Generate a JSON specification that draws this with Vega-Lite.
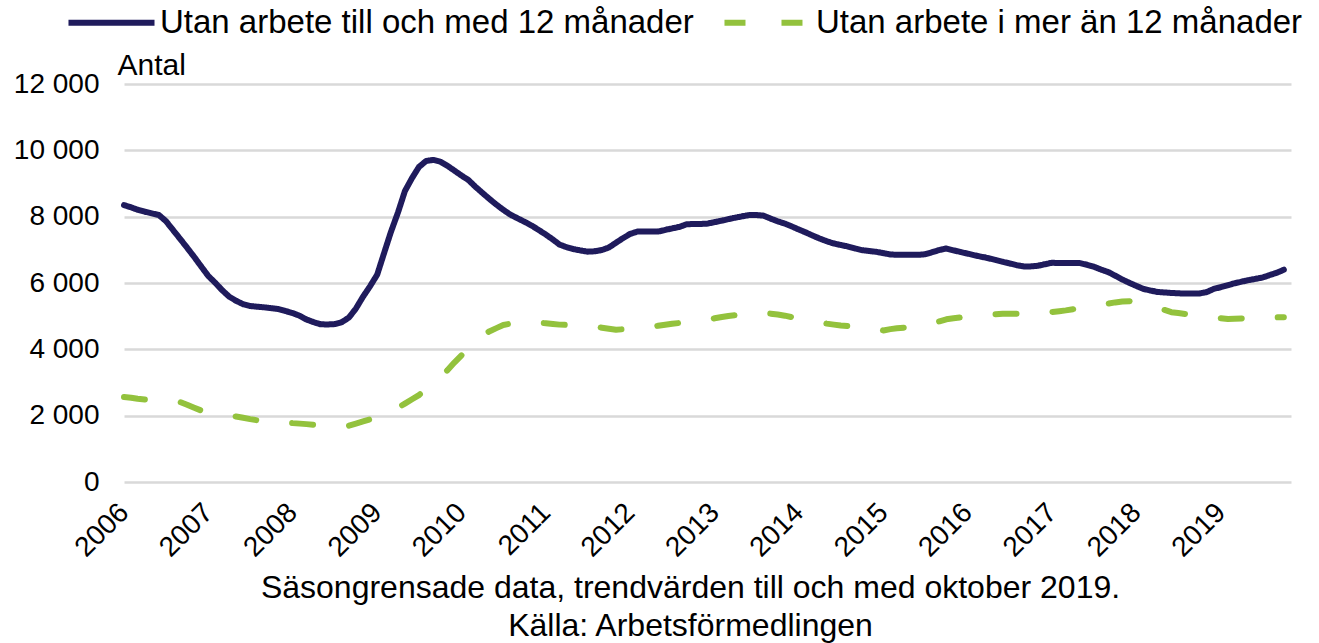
{
  "$schema": "https://vega.github.io/schema/vega-lite/v6.json",
  "width": 1167,
  "height": 398,
  "autosize": {"type": "none"},
  "padding": {"left": 124, "top": 84, "right": 28, "bottom": 161},
  "background": "white",
  "config": {"font": "Liberation Sans", "view": {"stroke": null}},
  "title": {
    "text": ["Säsongrensade  data, trendvärden till och med oktober 2019.", "Källa:  Arbetsförmedlingen"],
    "orient": "bottom",
    "anchor": "middle",
    "fontSize": 32,
    "fontWeight": "normal",
    "color": "black",
    "offset": 11,
    "dx": -17,
    "lineHeight": 38
  },
  "data": {
    "format": {"parse": {"d": "date:'%Y-%m'"}},
    "values": [
      {"d":"2006-01","Utan arbete till och med 12 månader":8350,"Utan arbete i mer än 12 månader":2560},
      {"d":"2006-02","Utan arbete till och med 12 månader":8280,"Utan arbete i mer än 12 månader":2540},
      {"d":"2006-03","Utan arbete till och med 12 månader":8210,"Utan arbete i mer än 12 månader":2510},
      {"d":"2006-04","Utan arbete till och med 12 månader":8150,"Utan arbete i mer än 12 månader":2490},
      {"d":"2006-05","Utan arbete till och med 12 månader":8100,"Utan arbete i mer än 12 månader":2475},
      {"d":"2006-06","Utan arbete till och med 12 månader":8050,"Utan arbete i mer än 12 månader":2460},
      {"d":"2006-07","Utan arbete till och med 12 månader":7870,"Utan arbete i mer än 12 månader":2450},
      {"d":"2006-08","Utan arbete till och med 12 månader":7600,"Utan arbete i mer än 12 månader":2430},
      {"d":"2006-09","Utan arbete till och med 12 månader":7330,"Utan arbete i mer än 12 månader":2410},
      {"d":"2006-10","Utan arbete till och med 12 månader":7065,"Utan arbete i mer än 12 månader":2330},
      {"d":"2006-11","Utan arbete till och med 12 månader":6785,"Utan arbete i mer än 12 månader":2240},
      {"d":"2006-12","Utan arbete till och med 12 månader":6500,"Utan arbete i mer än 12 månader":2155},
      {"d":"2007-01","Utan arbete till och med 12 månader":6210,"Utan arbete i mer än 12 månader":2100},
      {"d":"2007-02","Utan arbete till och med 12 månader":6000,"Utan arbete i mer än 12 månader":2065},
      {"d":"2007-03","Utan arbete till och med 12 månader":5790,"Utan arbete i mer än 12 månader":2040},
      {"d":"2007-04","Utan arbete till och med 12 månader":5590,"Utan arbete i mer än 12 månader":2005},
      {"d":"2007-05","Utan arbete till och med 12 månader":5465,"Utan arbete i mer än 12 månader":1975},
      {"d":"2007-06","Utan arbete till och med 12 månader":5360,"Utan arbete i mer än 12 månader":1935},
      {"d":"2007-07","Utan arbete till och med 12 månader":5305,"Utan arbete i mer än 12 månader":1895},
      {"d":"2007-08","Utan arbete till och med 12 månader":5285,"Utan arbete i mer än 12 månader":1860},
      {"d":"2007-09","Utan arbete till och med 12 månader":5265,"Utan arbete i mer än 12 månader":1840},
      {"d":"2007-10","Utan arbete till och med 12 månader":5240,"Utan arbete i mer än 12 månader":1825},
      {"d":"2007-11","Utan arbete till och med 12 månader":5215,"Utan arbete i mer än 12 månader":1810},
      {"d":"2007-12","Utan arbete till och med 12 månader":5155,"Utan arbete i mer än 12 månader":1795},
      {"d":"2008-01","Utan arbete till och med 12 månader":5095,"Utan arbete i mer än 12 månader":1775},
      {"d":"2008-02","Utan arbete till och med 12 månader":5010,"Utan arbete i mer än 12 månader":1760},
      {"d":"2008-03","Utan arbete till och med 12 månader":4900,"Utan arbete i mer än 12 månader":1745},
      {"d":"2008-04","Utan arbete till och med 12 månader":4820,"Utan arbete i mer än 12 månader":1725},
      {"d":"2008-05","Utan arbete till och med 12 månader":4755,"Utan arbete i mer än 12 månader":1715},
      {"d":"2008-06","Utan arbete till och med 12 månader":4750,"Utan arbete i mer än 12 månader":1705},
      {"d":"2008-07","Utan arbete till och med 12 månader":4760,"Utan arbete i mer än 12 månader":1695},
      {"d":"2008-08","Utan arbete till och med 12 månader":4820,"Utan arbete i mer än 12 månader":1685},
      {"d":"2008-09","Utan arbete till och med 12 månader":4960,"Utan arbete i mer än 12 månader":1700},
      {"d":"2008-10","Utan arbete till och med 12 månader":5230,"Utan arbete i mer än 12 månader":1760},
      {"d":"2008-11","Utan arbete till och med 12 månader":5590,"Utan arbete i mer än 12 månader":1825},
      {"d":"2008-12","Utan arbete till och med 12 månader":5900,"Utan arbete i mer än 12 månader":1890},
      {"d":"2009-01","Utan arbete till och med 12 månader":6250,"Utan arbete i mer än 12 månader":1980},
      {"d":"2009-02","Utan arbete till och med 12 månader":6925,"Utan arbete i mer än 12 månader":2065},
      {"d":"2009-03","Utan arbete till och med 12 månader":7530,"Utan arbete i mer än 12 månader":2155},
      {"d":"2009-04","Utan arbete till och med 12 månader":8125,"Utan arbete i mer än 12 månader":2240},
      {"d":"2009-05","Utan arbete till och med 12 månader":8770,"Utan arbete i mer än 12 månader":2365},
      {"d":"2009-06","Utan arbete till och med 12 månader":9165,"Utan arbete i mer än 12 månader":2495},
      {"d":"2009-07","Utan arbete till och med 12 månader":9500,"Utan arbete i mer än 12 månader":2620},
      {"d":"2009-08","Utan arbete till och med 12 månader":9680,"Utan arbete i mer än 12 månader":2800},
      {"d":"2009-09","Utan arbete till och med 12 månader":9710,"Utan arbete i mer än 12 månader":2985},
      {"d":"2009-10","Utan arbete till och med 12 månader":9660,"Utan arbete i mer än 12 månader":3165},
      {"d":"2009-11","Utan arbete till och med 12 månader":9535,"Utan arbete i mer än 12 månader":3370},
      {"d":"2009-12","Utan arbete till och med 12 månader":9390,"Utan arbete i mer än 12 månader":3600},
      {"d":"2010-01","Utan arbete till och med 12 månader":9240,"Utan arbete i mer än 12 månader":3820},
      {"d":"2010-02","Utan arbete till och med 12 månader":9100,"Utan arbete i mer än 12 månader":4020},
      {"d":"2010-03","Utan arbete till och med 12 månader":8910,"Utan arbete i mer än 12 månader":4220},
      {"d":"2010-04","Utan arbete till och med 12 månader":8720,"Utan arbete i mer än 12 månader":4420},
      {"d":"2010-05","Utan arbete till och med 12 månader":8540,"Utan arbete i mer än 12 månader":4540},
      {"d":"2010-06","Utan arbete till och med 12 månader":8365,"Utan arbete i mer än 12 månader":4640},
      {"d":"2010-07","Utan arbete till och med 12 månader":8205,"Utan arbete i mer än 12 månader":4735},
      {"d":"2010-08","Utan arbete till och med 12 månader":8060,"Utan arbete i mer än 12 månader":4775},
      {"d":"2010-09","Utan arbete till och med 12 månader":7950,"Utan arbete i mer än 12 månader":4785},
      {"d":"2010-10","Utan arbete till och med 12 månader":7845,"Utan arbete i mer än 12 månader":4800},
      {"d":"2010-11","Utan arbete till och med 12 månader":7730,"Utan arbete i mer än 12 månader":4810},
      {"d":"2010-12","Utan arbete till och med 12 månader":7600,"Utan arbete i mer än 12 månader":4805},
      {"d":"2011-01","Utan arbete till och med 12 månader":7460,"Utan arbete i mer än 12 månader":4785},
      {"d":"2011-02","Utan arbete till och med 12 månader":7310,"Utan arbete i mer än 12 månader":4765},
      {"d":"2011-03","Utan arbete till och med 12 månader":7160,"Utan arbete i mer än 12 månader":4745},
      {"d":"2011-04","Utan arbete till och med 12 månader":7080,"Utan arbete i mer än 12 månader":4735},
      {"d":"2011-05","Utan arbete till och med 12 månader":7020,"Utan arbete i mer än 12 månader":4725},
      {"d":"2011-06","Utan arbete till och med 12 månader":6980,"Utan arbete i mer än 12 månader":4715},
      {"d":"2011-07","Utan arbete till och med 12 månader":6945,"Utan arbete i mer än 12 månader":4700},
      {"d":"2011-08","Utan arbete till och med 12 månader":6955,"Utan arbete i mer än 12 månader":4680},
      {"d":"2011-09","Utan arbete till och med 12 månader":6995,"Utan arbete i mer än 12 månader":4650},
      {"d":"2011-10","Utan arbete till och med 12 månader":7070,"Utan arbete i mer än 12 månader":4620},
      {"d":"2011-11","Utan arbete till och med 12 månader":7215,"Utan arbete i mer än 12 månader":4590},
      {"d":"2011-12","Utan arbete till och med 12 månader":7350,"Utan arbete i mer än 12 månader":4605},
      {"d":"2012-01","Utan arbete till och med 12 månader":7480,"Utan arbete i mer än 12 månader":4625},
      {"d":"2012-02","Utan arbete till och med 12 månader":7550,"Utan arbete i mer än 12 månader":4640},
      {"d":"2012-03","Utan arbete till och med 12 månader":7550,"Utan arbete i mer än 12 månader":4660},
      {"d":"2012-04","Utan arbete till och med 12 månader":7550,"Utan arbete i mer än 12 månader":4680},
      {"d":"2012-05","Utan arbete till och med 12 månader":7550,"Utan arbete i mer än 12 månader":4710},
      {"d":"2012-06","Utan arbete till och med 12 månader":7600,"Utan arbete i mer än 12 månader":4740},
      {"d":"2012-07","Utan arbete till och med 12 månader":7645,"Utan arbete i mer än 12 månader":4770},
      {"d":"2012-08","Utan arbete till och med 12 månader":7690,"Utan arbete i mer än 12 månader":4795},
      {"d":"2012-09","Utan arbete till och med 12 månader":7770,"Utan arbete i mer än 12 månader":4815},
      {"d":"2012-10","Utan arbete till och med 12 månader":7780,"Utan arbete i mer än 12 månader":4840},
      {"d":"2012-11","Utan arbete till och med 12 månader":7780,"Utan arbete i mer än 12 månader":4860},
      {"d":"2012-12","Utan arbete till och med 12 månader":7790,"Utan arbete i mer än 12 månader":4895},
      {"d":"2013-01","Utan arbete till och med 12 månader":7835,"Utan arbete i mer än 12 månader":4935},
      {"d":"2013-02","Utan arbete till och med 12 månader":7880,"Utan arbete i mer än 12 månader":4975},
      {"d":"2013-03","Utan arbete till och med 12 månader":7925,"Utan arbete i mer än 12 månader":5005},
      {"d":"2013-04","Utan arbete till och med 12 månader":7970,"Utan arbete i mer än 12 månader":5030},
      {"d":"2013-05","Utan arbete till och med 12 månader":8010,"Utan arbete i mer än 12 månader":5055},
      {"d":"2013-06","Utan arbete till och med 12 månader":8050,"Utan arbete i mer än 12 månader":5080},
      {"d":"2013-07","Utan arbete till och med 12 månader":8050,"Utan arbete i mer än 12 månader":5110},
      {"d":"2013-08","Utan arbete till och med 12 månader":8030,"Utan arbete i mer än 12 månader":5095},
      {"d":"2013-09","Utan arbete till och med 12 månader":7940,"Utan arbete i mer än 12 månader":5075},
      {"d":"2013-10","Utan arbete till och med 12 månader":7860,"Utan arbete i mer än 12 månader":5050},
      {"d":"2013-11","Utan arbete till och med 12 månader":7790,"Utan arbete i mer än 12 månader":5015},
      {"d":"2013-12","Utan arbete till och med 12 månader":7705,"Utan arbete i mer än 12 månader":4970},
      {"d":"2014-01","Utan arbete till och med 12 månader":7610,"Utan arbete i mer än 12 månader":4930},
      {"d":"2014-02","Utan arbete till och med 12 månader":7520,"Utan arbete i mer än 12 månader":4885},
      {"d":"2014-03","Utan arbete till och med 12 månader":7430,"Utan arbete i mer än 12 månader":4845},
      {"d":"2014-04","Utan arbete till och med 12 månader":7340,"Utan arbete i mer än 12 månader":4810},
      {"d":"2014-05","Utan arbete till och med 12 månader":7260,"Utan arbete i mer än 12 månader":4775},
      {"d":"2014-06","Utan arbete till och med 12 månader":7190,"Utan arbete i mer än 12 månader":4745},
      {"d":"2014-07","Utan arbete till och med 12 månader":7145,"Utan arbete i mer än 12 månader":4720},
      {"d":"2014-08","Utan arbete till och med 12 månader":7100,"Utan arbete i mer än 12 månader":4700},
      {"d":"2014-09","Utan arbete till och med 12 månader":7040,"Utan arbete i mer än 12 månader":4680},
      {"d":"2014-10","Utan arbete till och med 12 månader":6990,"Utan arbete i mer än 12 månader":4665},
      {"d":"2014-11","Utan arbete till och med 12 månader":6965,"Utan arbete i mer än 12 månader":4645},
      {"d":"2014-12","Utan arbete till och med 12 månader":6940,"Utan arbete i mer än 12 månader":4600},
      {"d":"2015-01","Utan arbete till och med 12 månader":6900,"Utan arbete i mer än 12 månader":4570},
      {"d":"2015-02","Utan arbete till och med 12 månader":6860,"Utan arbete i mer än 12 månader":4610},
      {"d":"2015-03","Utan arbete till och med 12 månader":6850,"Utan arbete i mer än 12 månader":4635},
      {"d":"2015-04","Utan arbete till och med 12 månader":6850,"Utan arbete i mer än 12 månader":4655},
      {"d":"2015-05","Utan arbete till och med 12 månader":6850,"Utan arbete i mer än 12 månader":4675},
      {"d":"2015-06","Utan arbete till och med 12 månader":6850,"Utan arbete i mer än 12 månader":4700},
      {"d":"2015-07","Utan arbete till och med 12 månader":6865,"Utan arbete i mer än 12 månader":4730},
      {"d":"2015-08","Utan arbete till och med 12 månader":6930,"Utan arbete i mer än 12 månader":4790},
      {"d":"2015-09","Utan arbete till och med 12 månader":6995,"Utan arbete i mer än 12 månader":4845},
      {"d":"2015-10","Utan arbete till och med 12 månader":7040,"Utan arbete i mer än 12 månader":4905},
      {"d":"2015-11","Utan arbete till och med 12 månader":6985,"Utan arbete i mer än 12 månader":4935},
      {"d":"2015-12","Utan arbete till och med 12 månader":6935,"Utan arbete i mer än 12 månader":4960},
      {"d":"2016-01","Utan arbete till och med 12 månader":6885,"Utan arbete i mer än 12 månader":4980},
      {"d":"2016-02","Utan arbete till och med 12 månader":6835,"Utan arbete i mer än 12 månader":5005},
      {"d":"2016-03","Utan arbete till och med 12 månader":6790,"Utan arbete i mer än 12 månader":5025},
      {"d":"2016-04","Utan arbete till och med 12 månader":6745,"Utan arbete i mer än 12 månader":5040},
      {"d":"2016-05","Utan arbete till och med 12 månader":6695,"Utan arbete i mer än 12 månader":5055},
      {"d":"2016-06","Utan arbete till och med 12 månader":6640,"Utan arbete i mer än 12 månader":5070},
      {"d":"2016-07","Utan arbete till och med 12 månader":6590,"Utan arbete i mer än 12 månader":5070},
      {"d":"2016-08","Utan arbete till och med 12 månader":6535,"Utan arbete i mer än 12 månader":5070},
      {"d":"2016-09","Utan arbete till och med 12 månader":6500,"Utan arbete i mer än 12 månader":5070},
      {"d":"2016-10","Utan arbete till och med 12 månader":6500,"Utan arbete i mer än 12 månader":5070},
      {"d":"2016-11","Utan arbete till och med 12 månader":6520,"Utan arbete i mer än 12 månader":5075},
      {"d":"2016-12","Utan arbete till och med 12 månader":6565,"Utan arbete i mer än 12 månader":5100},
      {"d":"2017-01","Utan arbete till och med 12 månader":6610,"Utan arbete i mer än 12 månader":5125},
      {"d":"2017-02","Utan arbete till och med 12 månader":6600,"Utan arbete i mer än 12 månader":5150},
      {"d":"2017-03","Utan arbete till och med 12 månader":6600,"Utan arbete i mer än 12 månader":5175},
      {"d":"2017-04","Utan arbete till och med 12 månader":6600,"Utan arbete i mer än 12 månader":5210},
      {"d":"2017-05","Utan arbete till och med 12 månader":6600,"Utan arbete i mer än 12 månader":5245},
      {"d":"2017-06","Utan arbete till och med 12 månader":6550,"Utan arbete i mer än 12 månader":5285},
      {"d":"2017-07","Utan arbete till och med 12 månader":6490,"Utan arbete i mer än 12 månader":5315},
      {"d":"2017-08","Utan arbete till och med 12 månader":6405,"Utan arbete i mer än 12 månader":5350},
      {"d":"2017-09","Utan arbete till och med 12 månader":6330,"Utan arbete i mer än 12 månader":5380},
      {"d":"2017-10","Utan arbete till och med 12 månader":6220,"Utan arbete i mer än 12 månader":5415},
      {"d":"2017-11","Utan arbete till och med 12 månader":6105,"Utan arbete i mer än 12 månader":5440},
      {"d":"2017-12","Utan arbete till och med 12 månader":6005,"Utan arbete i mer än 12 månader":5450},
      {"d":"2018-01","Utan arbete till och med 12 månader":5910,"Utan arbete i mer än 12 månader":5410},
      {"d":"2018-02","Utan arbete till och med 12 månader":5820,"Utan arbete i mer än 12 månader":5360},
      {"d":"2018-03","Utan arbete till och med 12 månader":5775,"Utan arbete i mer än 12 månader":5315},
      {"d":"2018-04","Utan arbete till och med 12 månader":5730,"Utan arbete i mer än 12 månader":5250},
      {"d":"2018-05","Utan arbete till och med 12 månader":5715,"Utan arbete i mer än 12 månader":5190},
      {"d":"2018-06","Utan arbete till och med 12 månader":5700,"Utan arbete i mer än 12 månader":5120},
      {"d":"2018-07","Utan arbete till och med 12 månader":5690,"Utan arbete i mer än 12 månader":5095},
      {"d":"2018-08","Utan arbete till och med 12 månader":5680,"Utan arbete i mer än 12 månader":5065},
      {"d":"2018-09","Utan arbete till och med 12 månader":5680,"Utan arbete i mer än 12 månader":5030},
      {"d":"2018-10","Utan arbete till och med 12 månader":5685,"Utan arbete i mer än 12 månader":4995},
      {"d":"2018-11","Utan arbete till och med 12 månader":5725,"Utan arbete i mer än 12 månader":4975},
      {"d":"2018-12","Utan arbete till och med 12 månader":5820,"Utan arbete i mer än 12 månader":4955},
      {"d":"2019-01","Utan arbete till och med 12 månader":5875,"Utan arbete i mer än 12 månader":4940},
      {"d":"2019-02","Utan arbete till och med 12 månader":5935,"Utan arbete i mer än 12 månader":4915},
      {"d":"2019-03","Utan arbete till och med 12 månader":5990,"Utan arbete i mer än 12 månader":4920},
      {"d":"2019-04","Utan arbete till och med 12 månader":6040,"Utan arbete i mer än 12 månader":4930},
      {"d":"2019-05","Utan arbete till och med 12 månader":6085,"Utan arbete i mer än 12 månader":4940},
      {"d":"2019-06","Utan arbete till och med 12 månader":6125,"Utan arbete i mer än 12 månader":4950},
      {"d":"2019-07","Utan arbete till och med 12 månader":6165,"Utan arbete i mer än 12 månader":4955},
      {"d":"2019-08","Utan arbete till och med 12 månader":6240,"Utan arbete i mer än 12 månader":4960},
      {"d":"2019-09","Utan arbete till och med 12 månader":6310,"Utan arbete i mer än 12 månader":4965},
      {"d":"2019-10","Utan arbete till och med 12 månader":6400,"Utan arbete i mer än 12 månader":4970}
    ]
  },
  "transform": [
    {"fold": ["Utan arbete till och med 12 månader", "Utan arbete i mer än 12 månader"], "as": ["serie", "antal"]}
  ],
  "mark": {"type": "line", "strokeWidth": 6, "strokeCap": "round", "strokeJoin": "round"},
  "encoding": {
    "x": {
      "field": "d",
      "type": "temporal",
      "scale": {"domain": [{"year": 2006, "month": 1, "date": 1}, {"year": 2019, "month": 11, "date": 1}]},
      "axis": {
        "title": null,
        "format": "%Y",
        "tickCount": {"interval": "year", "step": 1},
        "labelAngle": -45,
        "labelAlign": "right",
        "labelBaseline": "middle",
        "labelFontSize": 28,
        "labelColor": "black",
        "labelPadding": 26,
        "labelFlush": false,
        "labelOverlap": false,
        "labelBound": false,
        "ticks": false,
        "domain": false,
        "grid": false
      }
    },
    "y": {
      "field": "antal",
      "type": "quantitative",
      "scale": {"domain": [0, 12000], "nice": false},
      "axis": {
        "title": "Antal",
        "titleAngle": 0,
        "titleX": -7,
        "titleY": -10,
        "titleAlign": "left",
        "titleBaseline": "alphabetic",
        "titleFontSize": 30,
        "titleFontWeight": "normal",
        "titleColor": "black",
        "values": [0, 2000, 4000, 6000, 8000, 10000, 12000],
        "labelExpr": "replace(format(datum.value, ','), ',', ' ')",
        "labelFontSize": 28,
        "labelColor": "black",
        "labelPadding": 25,
        "ticks": false,
        "domain": false,
        "gridColor": "#d9d9d9",
        "gridWidth": 2.5
      }
    },
    "color": {
      "field": "serie",
      "type": "nominal",
      "scale": {"domain": ["Utan arbete till och med 12 månader", "Utan arbete i mer än 12 månader"], "range": ["#1f1b5c", "#93c23d"]},
      "legend": {
        "orient": "none",
        "legendX": -59,
        "legendY": -108,
        "direction": "horizontal",
        "title": null,
        "labelFontSize": 33,
        "labelColor": "black",
        "labelLimit": 1000,
        "symbolType": "stroke",
        "symbolSize": 7400,
        "symbolStrokeWidth": 6,
        "labelOffset": 2,
        "columnPadding": 18
      }
    },
    "strokeDash": {
      "field": "serie",
      "type": "nominal",
      "scale": {"domain": ["Utan arbete till och med 12 månader", "Utan arbete i mer än 12 månader"], "range": [[1, 0], [21, 36]]},
      "legend": {
        "orient": "none",
        "legendX": -59,
        "legendY": -108,
        "direction": "horizontal",
        "title": null,
        "labelFontSize": 33,
        "labelColor": "black",
        "labelLimit": 1000,
        "symbolType": "stroke",
        "symbolSize": 7400,
        "symbolStrokeWidth": 6,
        "labelOffset": 2,
        "columnPadding": 18
      }
    }
  }
}
